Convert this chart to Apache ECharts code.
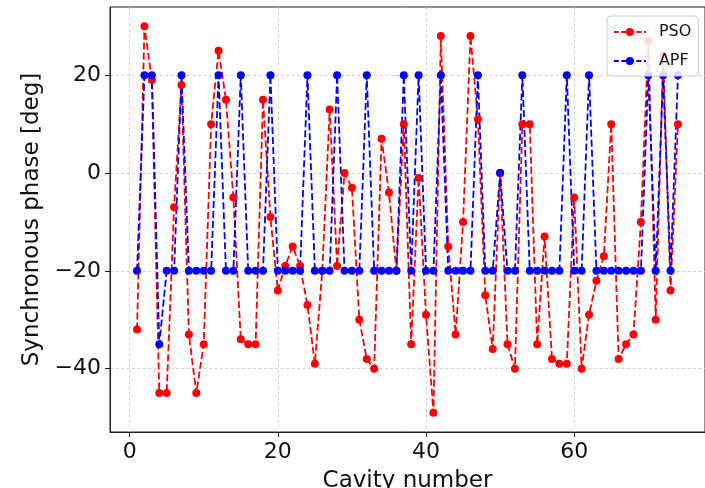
<!DOCTYPE html>
<html>
<head>
<meta charset="utf-8">
<script src="https://cdn.jsdelivr.net/npm/echarts@6/dist/echarts.min.js"></script>
<style>
  html, body { margin: 0; padding: 0; background: #fff; }
  #chart { width: 705px; height: 488px; }
</style>
</head>
<body>
<div id="chart"></div>
<script>
const cavity = [1,2,3,4,5,6,7,8,9,10,11,12,13,14,15,16,17,18,19,20,21,22,23,24,25,26,27,28,29,30,31,32,33,34,35,36,37,38,39,40,41,42,43,44,45,46,47,48,49,50,51,52,53,54,55,56,57,58,59,60,61,62,63,64,65,66,67,68,69,70,71,72,73,74];
const pso = [-32,30,19,-45,-45,-7,18,-33,-45,-35,10,25,15,-5,-34,-35,-35,15,-9,-24,-19,-15,-19,-27,-39,-20,13,-19,0,-3,-30,-38,-40,7,-4,-20,10,-35,-1,-29,-49,28,-15,-33,-10,28,11,-25,-36,0,-35,-40,10,10,-35,-13,-38,-39,-39,-5,-40,-29,-22,-17,10,-38,-35,-33,-10,27,-30,24,-24,10];
const apf = [-20,20,20,-35,-20,-20,20,-20,-20,-20,-20,20,-20,-20,20,-20,-20,-20,20,-20,-20,-20,-20,20,-20,-20,-20,20,-20,-20,-20,20,-20,-20,-20,-20,20,-20,20,-20,-20,20,-20,-20,-20,-20,20,-20,-20,0,-20,-20,20,-20,-20,-20,-20,-20,20,-20,-20,20,-20,-20,-20,-20,-20,-20,-20,20,-20,20,-20,20];
const xTicks = [0,20,40,60];
const yTicks = [-40,-20,0,20];
const seriesNames = ['PSO','APF'];

const FONT = 'DejaVu Sans';
const chart = echarts.init(document.getElementById('chart'), null, {renderer: 'canvas'});

function pairs(vals) { return cavity.map((c, i) => [c, vals[i]]); }

const gridLine = { show: true, lineStyle: { color: '#c8c8c8', width: 0.8, type: [3, 2.5] } };

chart.setOption({
  animation: false,
  backgroundColor: '#fff',
  grid: { left: 110, top: 7, right: 0, bottom: 56, containLabel: false, outerBoundsMode: 'none',
          show: true, borderColor: '#222', borderWidth: 1, backgroundColor: 'transparent' },
  xAxis: {
    type: 'value', min: -2.65, max: 77.65,
    name: 'Cavity number', nameLocation: 'middle', nameGap: 38,
    nameTextStyle: { fontFamily: FONT, fontSize: 23, color: '#111' },
    axisLine: { show: true, onZero: false, lineStyle: { color: '#222', width: 1 } },
    axisTick: { show: true, inside: false, length: 5, customValues: xTicks, lineStyle: { color: '#222', width: 1 } },
    axisLabel: { customValues: xTicks, fontFamily: FONT, fontSize: 22, color: '#111', margin: 9 },
    splitLine: gridLine
  },
  yAxis: {
    type: 'value', min: -52.95, max: 33.95,
    name: 'Synchronous phase [deg]', nameLocation: 'middle', nameGap: 66, nameRotate: 90,
    nameTextStyle: { fontFamily: FONT, fontSize: 23, color: '#111' },
    axisLine: { show: true, onZero: false, lineStyle: { color: '#222', width: 1 } },
    axisTick: { show: true, inside: false, length: 5, customValues: yTicks, lineStyle: { color: '#222', width: 1 } },
    axisLabel: { customValues: yTicks, fontFamily: FONT, fontSize: 22, color: '#111', margin: 9,
      formatter: v => (v < 0 ? '\u2212' + Math.abs(v) : String(v)) },
    splitLine: gridLine
  },
  legend: {
    show: true, orient: 'vertical', left: 607, top: 16,
    padding: [8, 7, 7, 6], itemGap: 13, itemWidth: 32, itemHeight: 10,
    backgroundColor: 'rgba(255,255,255,0.85)', borderColor: '#ccc', borderWidth: 1, borderRadius: 4,
    lineStyle: { type: [5, 2.5], width: 1.8 },
    textStyle: { fontFamily: FONT, fontSize: 16, color: '#111', padding: [0, 0, 0, 8] },
    data: seriesNames
  },
  series: [
    {
      name: seriesNames[0], type: 'line', data: pairs(pso),
      symbol: 'circle', symbolSize: 8,
      itemStyle: { color: '#ff0000' },
      lineStyle: { color: '#ff0000', width: 1.8, type: [7, 3] }
    },
    {
      name: seriesNames[1], type: 'line', data: pairs(apf),
      symbol: 'circle', symbolSize: 8,
      itemStyle: { color: '#0000ff' },
      lineStyle: { color: '#0000ff', width: 1.8, type: [7, 3] }
    }
  ]
});
</script>
</body>
</html>
